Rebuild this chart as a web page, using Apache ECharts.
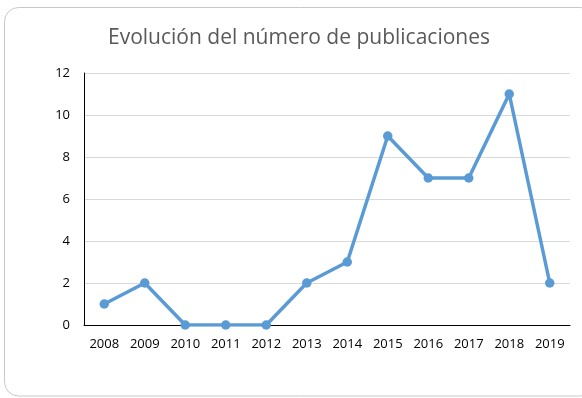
<!DOCTYPE html>
<html>
<head>
<meta charset="utf-8">
<script src="https://cdn.jsdelivr.net/npm/echarts@6/dist/echarts.min.js"></script>
<style>
  html, body { margin: 0; padding: 0; background: #fff; }
  #chart { width: 582px; height: 398px; }
</style>
</head>
<body>
<div id="chart"></div>
<script>
// Publications per year
const years = ['2008', '2009', '2010', '2011', '2012', '2013', '2014', '2015', '2016', '2017', '2018', '2019'];
const publications = [1, 2, 0, 0, 0, 2, 3, 9, 7, 7, 11, 2];
const titleText = 'Evolución del número de publicaciones';

const chart = echarts.init(document.getElementById('chart'));
chart.setOption({
  backgroundColor: '#ffffff',
  animation: false,
  graphic: [{
    type: 'rect',
    shape: { x: 4.5, y: 7.5, width: 590, height: 388.5, r: 14 },
    style: { fill: 'none', stroke: '#c8c8c8', lineWidth: 1 },
    z: -1
  }],
  title: {
    text: titleText,
    left: 294,
    textAlign: 'center',
    top: 23,
    textStyle: { fontFamily: 'Open Sans', fontSize: 21, fontWeight: 'normal', color: '#595959' }
  },
  grid: { left: 84, right: 12, top: 73, bottom: 73, containLabel: false },
  xAxis: {
    type: 'category',
    data: years,
    boundaryGap: true,
    axisLine: { lineStyle: { color: '#000', width: 1 } },
    axisTick: { show: false },
    axisLabel: { color: '#000', fontFamily: 'Open Sans', fontSize: 13, margin: 13 }
  },
  yAxis: {
    type: 'value',
    min: 0,
    max: 12,
    interval: 2,
    axisLine: { show: true, lineStyle: { color: '#000', width: 1 } },
    axisTick: { show: false },
    axisLabel: { color: '#000', fontFamily: 'Open Sans', fontSize: 13, margin: 14 },
    splitLine: { lineStyle: { color: '#d9d9d9', width: 1 } }
  },
  series: [{
    type: 'line',
    data: publications,
    symbol: 'circle',
    symbolSize: 9.5,
    lineStyle: { color: '#5b9bd5', width: 3.5 },
    itemStyle: { color: '#5b9bd5' }
  }]
});
</script>
</body>
</html>
